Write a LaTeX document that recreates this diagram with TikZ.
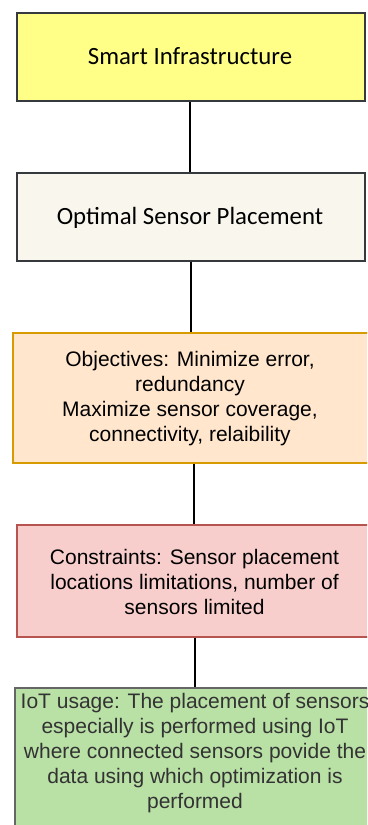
\documentclass[tikz,border=0pt]{standalone}
\usepackage{fontspec}
\setmainfont{Liberation Sans}
\newfontfamily\calib{Carlito}
\definecolor{yfill}{HTML}{FFFF88}
\definecolor{gline}{HTML}{36393D}
\definecolor{cfill}{HTML}{F9F7ED}
\definecolor{ofill}{HTML}{FFE6CC}
\definecolor{oline}{HTML}{D79B00}
\definecolor{rfill}{HTML}{F8CECC}
\definecolor{rline}{HTML}{B85450}
\definecolor{grfill}{HTML}{B9E0A5}
\definecolor{grline}{HTML}{666666}
\definecolor{grtext}{HTML}{333333}
\tikzset{
  panel/.style={draw, line width=1.3pt, inner sep=0pt},
  calibtext/.style={font=\calib\fontsize{24.8}{30}\selectfont, inner sep=0pt, anchor=base},
  arialtext/.style={font=\fontsize{21}{25}\selectfont, align=center, inner sep=0pt},
  link/.style={draw=black, line width=1.4pt},
}
\begin{document}
\begin{tikzpicture}[x=1pt,y=-1pt]
\useasboundingbox (0,0) rectangle (367,825);
\clip (0,0) rectangle (367,825);

% boxes
\node[panel, fill=yfill, draw=gline, minimum width=348pt, minimum height=88pt] (infra) at (191,57) {};
\node[panel, fill=cfill, draw=gline, minimum width=348pt, minimum height=88pt] (osp) at (191,217) {};
\node[panel, fill=ofill, draw=oline, minimum width=362pt, minimum height=130pt] (obj) at (194,398) {};
\node[panel, fill=rfill, draw=rline, minimum width=356pt, minimum height=112pt] (con) at (195,581) {};
\node[panel, fill=grfill, draw=grline, minimum width=360pt, minimum height=180pt] (iot) at (195,778) {};

% connectors (straight vertical drops)
\draw[link] ([xshift=-1pt]infra.south) -- ([xshift=-1pt]infra.south |- osp.north);
\draw[link] (osp.south) -- (osp.south |- obj.north);
\draw[link] (obj.south) -- (obj.south |- con.north);
\draw[link] (con.south) -- (iot.north);

% texts
\node[calibtext] (t1) at (190,64) {Smart Infrastructure};
\node[calibtext] (t2) at (190,224) {Optimal Sensor Placement};
\node[arialtext] (t3) at (190,399) {Objectives: Minimize error,\\redundancy\\Maximize sensor coverage,\\connectivity, relaibility};
\node[arialtext] (t4) at (194.5,582) {Constraints: Sensor placement\\locations limitations, number of\\sensors limited};
\node[arialtext, text=grtext] (t5) at (195,753) {IoT usage: The placement of sensors\\especially is performed using IoT\\where connected sensors povide the\\data using which optimization is\\performed};
\end{tikzpicture}
\end{document}
